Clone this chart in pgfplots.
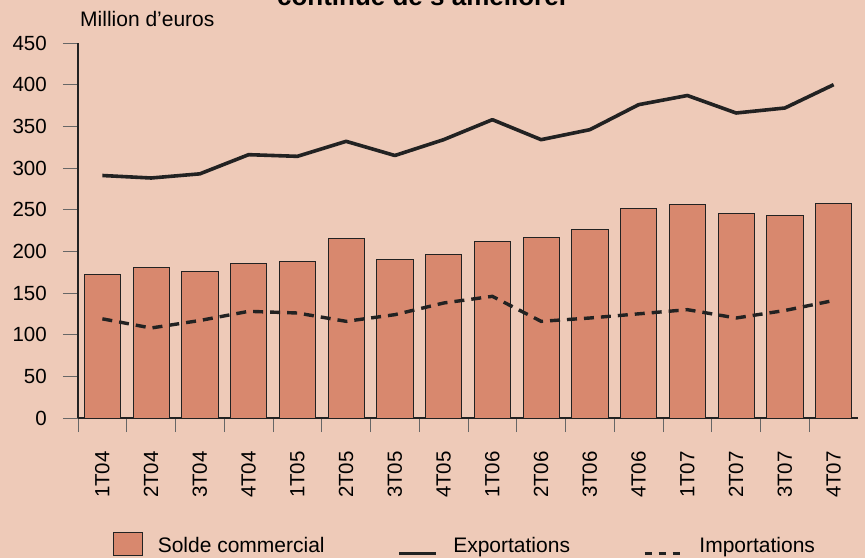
\documentclass[border=0pt]{standalone}
\usepackage{fontspec}
\setmainfont{Liberation Sans}
\usepackage{pgfplots}
\pgfplotsset{compat=1.18}

\definecolor{bg}{HTML}{EECAB8}
\definecolor{barc}{HTML}{D8886E}
\definecolor{ink}{HTML}{222222}

% solde commercial, exportations, importations (million d'euros)
\pgfplotstableread{
x solde export import
0  172 291 119
1  181 288 108
2  176 293 117
3  186 316 128
4  188 314 126
5  215 332 116
6  190 315 124
7  196 334 138
8  212 358 146
9  217 334 116
10 226 346 120
11 252 376 125
12 256 387 130
13 246 366 120
14 243 372 129
15 258 400 141
}\trade

\begin{document}
\begin{tikzpicture}
\path[use as bounding box, fill=bg] (0pt,0pt) rectangle (865pt,558pt);
\begin{axis}[
    at={(78pt,140pt)}, anchor=south west,
    width=780pt, height=375pt, scale only axis,
    xmin=-0.5, xmax=15.5, ymin=0, ymax=450,
    axis x line*=bottom, axis y line*=left,
    axis line style={ink, line width=1.1pt},
    tick align=outside,
    major tick length=15pt, minor tick length=14pt,
    xtick={0,...,15},
    xticklabels={1T04,2T04,3T04,4T04,1T05,2T05,3T05,4T05,1T06,2T06,3T06,4T06,1T07,2T07,3T07,4T07},
    major x tick style={draw=none},
    minor xtick={-0.5,0.5,...,14.5},
    minor x tick style={black!60, line width=1pt},
    ytick={0,50,...,450},
    major y tick style={black!60, line width=1pt},
    /pgf/number format/assume math mode=true,
    ticklabel style={font=\fontsize{20.5}{24}\selectfont, text=black},
    xticklabel style={rotate=90, anchor=east, inner sep=0pt, xshift=-18pt},
    yticklabel style={anchor=east, inner sep=0pt, xshift=-16pt},
    ylabel={Million d’euros},
    ylabel style={rotate=-90, at={(axis description cs:0.0026,1.0427)}, anchor=base west, inner sep=0pt, font=\fontsize{21}{24}\selectfont},
    every axis title shift=0pt,
    title={continue de s’améliorer},
    title style={at={(axis description cs:0.4423,1.0987)}, anchor=base, inner sep=0pt, font=\fontsize{26}{30}\selectfont\bfseries},
    legend columns=3,
    legend style={at={(0.04487,-0.3677)}, anchor=south west, draw=none, fill=none,
        inner sep=0pt, outer sep=0pt, nodes={inner sep=0pt},
        font=\fontsize{21}{24}\selectfont,
        /tikz/every odd column/.append style={column sep=15pt},
        /tikz/every even column/.append style={column sep=73pt}},
    barleg/.style={legend image code/.code={\draw[fill=barc, draw=ink, line width=0.8pt] (0pt,-10pt) rectangle (29pt,13pt);}},
    expleg/.style={legend image code/.code={\draw[ink, line width=3.6pt] (0pt,-8pt) -- (37pt,-8pt);}},
    impleg/.style={legend image code/.code={\draw[ink, line width=3.4pt, dash pattern=on 7pt off 7pt] (0pt,-8pt) -- (38pt,-8pt);}},
]
\addplot[ybar, bar width=0.74, fill=barc, draw=ink, line width=0.8pt, barleg]
    table[x=x, y=solde] {\trade};
\addlegendentry{Solde commercial}
\addplot[ink, line width=3.6pt, line join=round, expleg]
    table[x=x, y=export] {\trade};
\addlegendentry{Exportations}
\addplot[ink, line width=3.4pt, dash pattern=on 10pt off 7pt, impleg]
    table[x=x, y=import] {\trade};
\addlegendentry{Importations}
\end{axis}
\end{tikzpicture}
\end{document}
